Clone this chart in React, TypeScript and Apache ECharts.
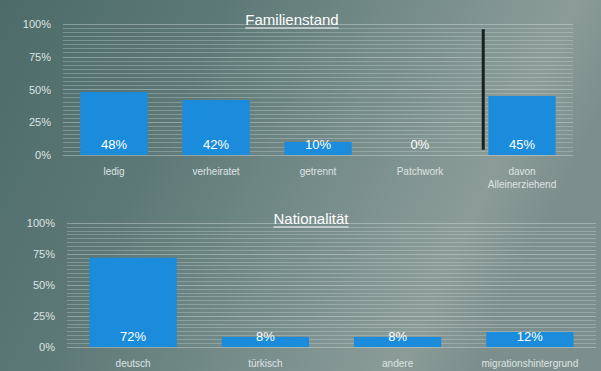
import React, { useEffect, useRef } from "react";
import * as echarts from "echarts";

const famCategories = ["ledig", "verheiratet", "getrennt", "Patchwork", "davon\nAlleinerziehend"];
const famValues = [48, 42, 10, 0, 45];
const natCategories = ["deutsch", "türkisch", "andere", "migrationshintergrund"];
const natValues = [72, 8, 8, 12];
const yTicks = [0, 25, 50, 75, 100];
const titles = ["Familienstand", "Nationalität"];
// separator between "Patchwork" and "davon Alleinerziehend": [from index, to index, yTop, yBottom]
const separator = [[3, 4, 96, 4]];

const BAR = "#1b8cdc";
const TXT = "#dde4e2";
const TITLE_FONT = 15;

function measure(text: string, size: number) {
  const ctx = document.createElement("canvas").getContext("2d");
  if (!ctx) return text.length * size * 0.55;
  ctx.font = `${size}px "Liberation Sans"`;
  return ctx.measureText(text).width;
}

export default function App() {
  const ref = useRef<HTMLDivElement>(null);
  useEffect(() => {
    document.body.style.margin = "0";
    const chart = echarts.init(ref.current!, null, { renderer: "svg" });
    const yAxisBase = (gridIndex: number) => ({
      type: "value",
      gridIndex,
      min: yTicks[0],
      max: yTicks[yTicks.length - 1],
      interval: 25,
      axisLine: { show: false },
      axisTick: { show: false },
      axisLabel: {
        formatter: (v: number) => (yTicks.includes(v) ? v + "%" : ""),
        color: TXT,
        fontSize: 11,
        fontFamily: "Liberation Sans",
        margin: 12,
      },
      splitLine: { show: true, lineStyle: { color: "rgba(225,235,232,0.38)", width: 1 } },
      minorTick: { show: false, splitNumber: 8 },
      minorSplitLine: { show: true, lineStyle: { color: "rgba(225,235,232,0.28)", width: 1 } },
    });
    const xAxisBase = (gridIndex: number, data: string[]) => ({
      type: "category",
      gridIndex,
      data,
      axisLine: { show: false },
      axisTick: { show: false },
      axisLabel: {
        color: TXT,
        fontSize: 10,
        fontFamily: "Liberation Sans",
        margin: 10,
        lineHeight: 13,
        interval: 0,
      },
    });
    const label = {
      show: true,
      position: "insideBottom",
      distance: 4,
      formatter: "{c}%",
      color: "#ffffff",
      fontSize: 13,
      fontFamily: "Liberation Sans",
    };
    const titleStyle = { color: "#ffffff", fontSize: TITLE_FONT, fontWeight: "normal", fontFamily: "Liberation Sans" };
    const centers = [292, 311];
    const tops = [12, 211];
    const underline = titles.map((t, i) => {
      const w = measure(t, TITLE_FONT);
      const y = tops[i] + TITLE_FONT + 1;
      return {
        type: "line",
        shape: { x1: centers[i] - w / 2, y1: y, x2: centers[i] + w / 2, y2: y },
        style: { stroke: "#ffffff", lineWidth: 1 },
      };
    });
    chart.setOption({
      animation: false,
      backgroundColor: {
        type: "linear",
        x: 0,
        y: 0,
        x2: 1,
        y2: 0.3,
        colorStops: [
          { offset: 0, color: "#4c6b69" },
          { offset: 0.35, color: "#5d7977" },
          { offset: 0.7, color: "#7c918e" },
          { offset: 0.88, color: "#8b9c98" },
          { offset: 1, color: "#7c8f8c" },
        ],
      },
      title: titles.map((t, i) => ({
        text: t,
        left: centers[i],
        top: tops[i],
        padding: 0,
        textAlign: "center",
        textStyle: titleStyle,
      })),
      graphic: underline,
      grid: [
        { left: 63, right: 28, top: 24, height: 131 },
        { left: 67, right: 5, top: 223, height: 124 },
      ],
      xAxis: [xAxisBase(0, famCategories), xAxisBase(1, natCategories)],
      yAxis: [yAxisBase(0), yAxisBase(1)],
      series: [
        {
          type: "bar",
          xAxisIndex: 0,
          yAxisIndex: 0,
          data: famValues,
          barWidth: "66%",
          itemStyle: { color: BAR },
          label,
        },
        {
          type: "custom",
          xAxisIndex: 0,
          yAxisIndex: 0,
          silent: true,
          data: separator,
          encode: { x: [0, 1], y: [2, 3] },
          renderItem: (_params: any, api: any) => {
            const a = api.coord([api.value(0), api.value(2)]);
            const b = api.coord([api.value(1), api.value(3)]);
            const x = a[0] + (b[0] - a[0]) * 0.62;
            return {
              type: "line",
              shape: { x1: x, y1: a[1], x2: x, y2: b[1] },
              style: { stroke: "#1a1f1f", lineWidth: 3 },
            };
          },
        },
        {
          type: "bar",
          xAxisIndex: 1,
          yAxisIndex: 1,
          data: natValues,
          barWidth: "66%",
          itemStyle: { color: BAR },
          label,
        },
      ],
    });
    return () => chart.dispose();
  }, []);
  return <div ref={ref} style={{ width: 601, height: 371 }} />;
}
